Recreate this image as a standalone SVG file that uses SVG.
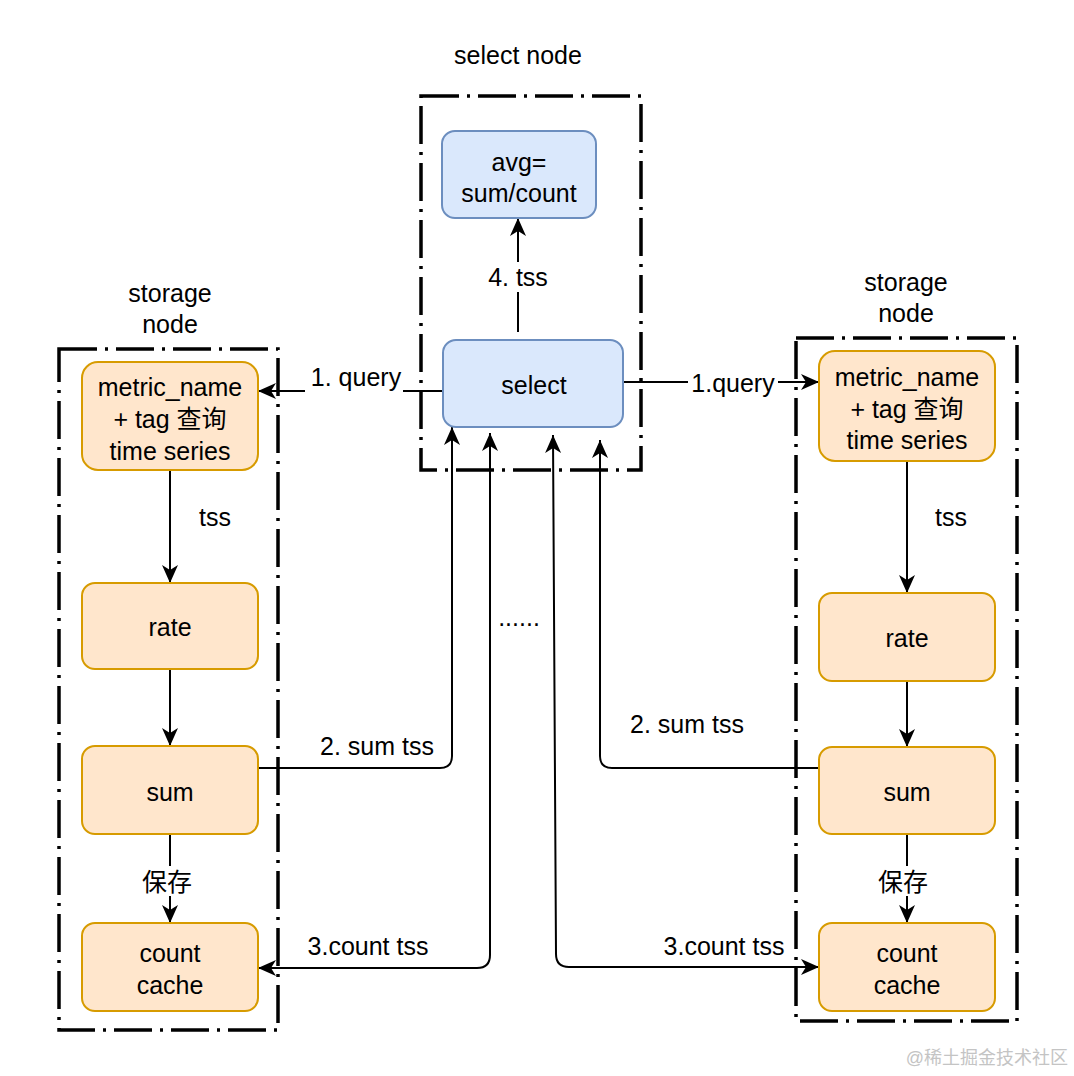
<svg xmlns="http://www.w3.org/2000/svg" width="1074" height="1076" viewBox="0 0 1074 1076">
<style>
text{font-family:"Liberation Sans","Noto Sans CJK SC",sans-serif;font-size:25px;fill:#000;text-anchor:middle}
.cont{fill:none;stroke:#000;stroke-width:3.5;stroke-dasharray:38 8 3 8}
.org{fill:#ffe6cc;stroke:#d79b00;stroke-width:2}
.blu{fill:#dae8fc;stroke:#6c8ebf;stroke-width:2}
.e{fill:none;stroke:#000;stroke-width:2}
.bg{fill:#fff}
.wm{font-size:18px;fill:#c4c4c4;text-anchor:end}
</style>
<defs>
<marker id="ar" markerUnits="userSpaceOnUse" markerWidth="20" markerHeight="20" refX="18" refY="10" orient="auto-start-reverse">
<path d="M0,2 L18,10 L0,18 L5,10 z" fill="#000"/>
</marker>
</defs>
<rect width="1074" height="1076" fill="#fff"/>

<g id="containers">
<rect class="cont" x="421" y="96" width="220" height="374"/>
<rect class="cont" x="59" y="349" width="219" height="681"/>
<rect class="cont" x="796" y="338" width="221" height="683"/>
<text x="518" y="64">select node</text>
<text x="170" y="302">storage</text>
<text x="170" y="333">node</text>
<text x="906" y="291">storage</text>
<text x="906" y="322">node</text>
</g>

<g id="connectors">
<path class="e" d="M443,391 L258,391" marker-end="url(#ar)"/>
<path class="e" d="M623,382 L819,382" marker-end="url(#ar)"/>
<path class="e" d="M518,332 L518,218" marker-end="url(#ar)"/>
<path class="e" d="M170,470 L170,583" marker-end="url(#ar)"/>
<path class="e" d="M170,669 L170,746" marker-end="url(#ar)"/>
<path class="e" d="M170,834 L170,923" marker-end="url(#ar)"/>
<path class="e" d="M907,461 L907,593" marker-end="url(#ar)"/>
<path class="e" d="M907,681 L907,747" marker-end="url(#ar)"/>
<path class="e" d="M907,834 L907,923" marker-end="url(#ar)"/>
<path class="e" d="M258,768 L440,768 Q452,768 452,756 L452,427" marker-end="url(#ar)"/>
<path class="e" d="M490,433 L490,955 Q490,968 477,968 L258,968" marker-start="url(#ar)" marker-end="url(#ar)"/>
<path class="e" d="M819,768 L612,768 Q600,768 600,756 L600,440" marker-end="url(#ar)"/>
<path class="e" d="M553,435 L556,954 Q556,967 569,967 L819,967" marker-start="url(#ar)" marker-end="url(#ar)"/>
<rect class="bg" x="305" y="364" width="98" height="28"/>
<text x="356" y="386">1. query</text>
<rect class="bg" x="688" y="368" width="90" height="28"/>
<text x="733" y="392">1.query</text>
<rect class="bg" x="484" y="262" width="68" height="30"/>
<text x="518" y="286">4. tss</text>
<text x="215" y="526">tss</text>
<text x="951" y="526">tss</text>
<rect class="bg" x="141" y="866" width="52" height="30"/>
<text x="167" y="891">保存</text>
<rect class="bg" x="877" y="866" width="52" height="30"/>
<text x="903" y="891">保存</text>
<text x="377" y="755">2. sum tss</text>
<text x="687" y="733">2. sum tss</text>
<text x="368" y="955">3.count tss</text>
<text x="724" y="955">3.count tss</text>
<text x="519" y="626">......</text>
</g>

<g id="avg">
<rect class="blu" x="442" y="131" width="154" height="87" rx="13"/>
<text x="519" y="171">avg=</text>
<text x="519" y="202">sum/count</text>
</g>
<g id="select">
<rect class="blu" x="443" y="340" width="180" height="87" rx="13"/>
<text x="534" y="394">select</text>
</g>

<g id="l-metric">
<rect class="org" x="82" y="362" width="176" height="108" rx="16"/>
<text x="170" y="396">metric_name</text>
<text x="170" y="428">+ tag 查询</text>
<text x="170" y="460">time series</text>
</g>
<g id="l-rate">
<rect class="org" x="82" y="583" width="176" height="86" rx="13"/>
<text x="170" y="636">rate</text>
</g>
<g id="l-sum">
<rect class="org" x="82" y="746" width="176" height="88" rx="13"/>
<text x="170" y="801">sum</text>
</g>
<g id="l-count">
<rect class="org" x="82" y="923" width="176" height="88" rx="13"/>
<text x="170" y="962">count</text>
<text x="170" y="994">cache</text>
</g>

<g id="r-metric">
<rect class="org" x="819" y="351" width="176" height="110" rx="16"/>
<text x="907" y="386">metric_name</text>
<text x="907" y="418">+ tag 查询</text>
<text x="907" y="449">time series</text>
</g>
<g id="r-rate">
<rect class="org" x="819" y="593" width="176" height="88" rx="13"/>
<text x="907" y="647">rate</text>
</g>
<g id="r-sum">
<rect class="org" x="819" y="747" width="176" height="87" rx="13"/>
<text x="907" y="801">sum</text>
</g>
<g id="r-count">
<rect class="org" x="819" y="923" width="176" height="88" rx="13"/>
<text x="907" y="962">count</text>
<text x="907" y="994">cache</text>
</g>

<text class="wm" x="1068" y="1064">@稀土掘金技术社区</text>
</svg>
